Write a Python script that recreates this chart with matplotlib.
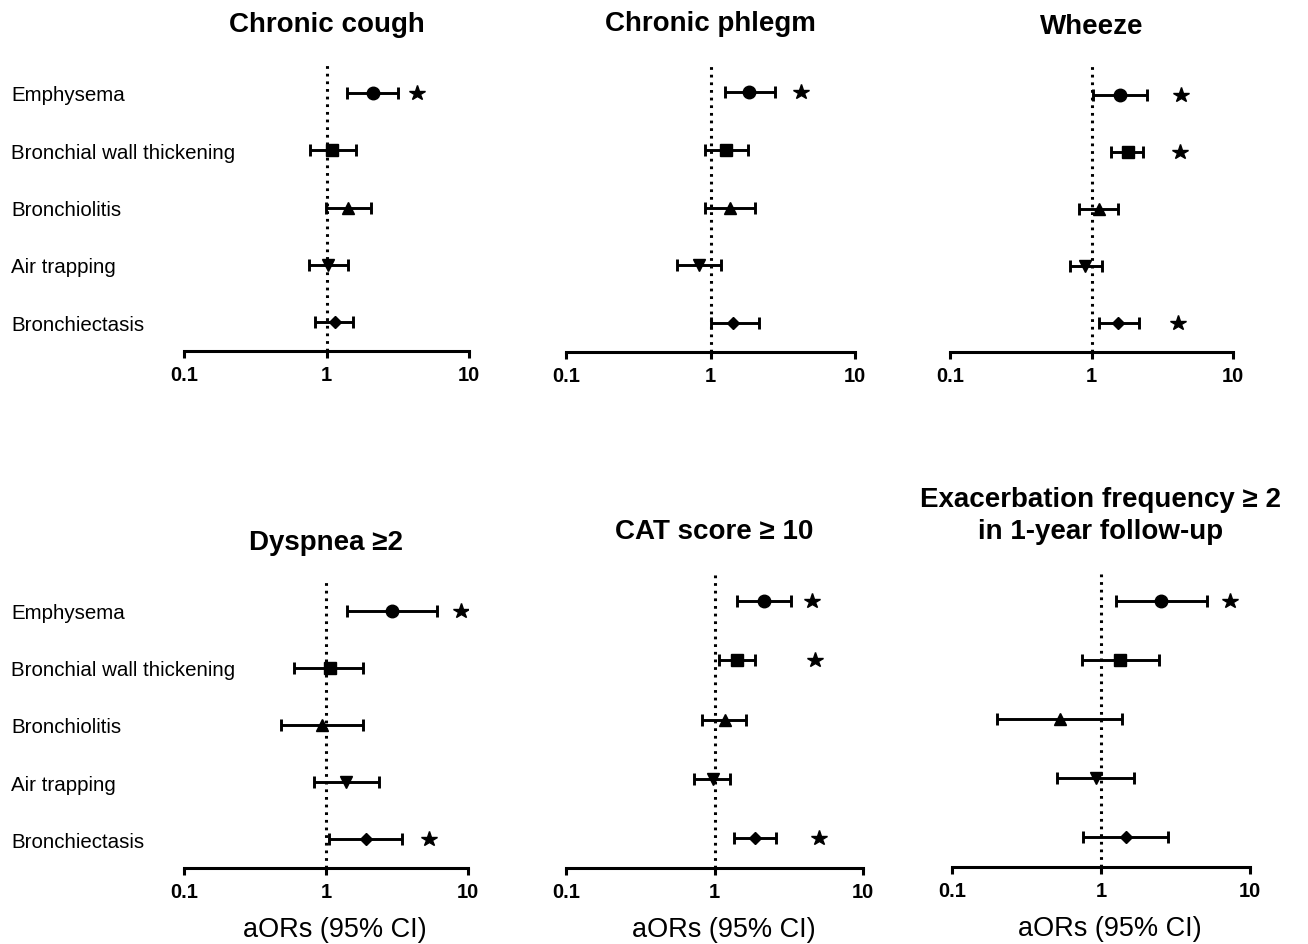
import matplotlib.pyplot as plt
import numpy as np

plt.rcParams['font.family'] = ['Liberation Sans', 'DejaVu Sans']

categories = ["Emphysema", "Bronchial wall thickening", "Bronchiolitis",
              "Air trapping", "Bronchiectasis"]
markers = ["o", "s", "^", "v", "D"]

titles = ["Chronic cough", "Chronic phlegm", "Wheeze",
          "Dyspnea \u22652", "CAT score \u2265 10",
          "Exacerbation frequency \u2265 2\nin 1-year follow-up"]

# adjusted odds ratios and 95% CI, one list per outcome
aor = [
    [2.11, 1.10, 1.42, 1.03, 1.15],
    [1.86, 1.28, 1.36, 0.83, 1.44],
    [1.60, 1.80, 1.13, 0.90, 1.55],
    [2.92, 1.06, 0.93, 1.39, 1.90],
    [2.16, 1.42, 1.17, 0.97, 1.87],
    [2.53, 1.35, 0.53, 0.92, 1.47],
]
ci_low = [
    [1.40, 0.77, 0.99, 0.75, 0.83],
    [1.26, 0.92, 0.92, 0.59, 1.00],
    [1.03, 1.38, 0.82, 0.70, 1.13],
    [1.41, 0.60, 0.48, 0.82, 1.05],
    [1.42, 1.07, 0.83, 0.73, 1.35],
    [1.26, 0.75, 0.20, 0.51, 0.76],
]
ci_high = [
    [3.19, 1.61, 2.05, 1.41, 1.54],
    [2.79, 1.83, 2.03, 1.18, 2.17],
    [2.47, 2.33, 1.55, 1.19, 2.15],
    [6.05, 1.82, 1.82, 2.36, 3.45],
    [3.29, 1.87, 1.64, 1.28, 2.61],
    [5.13, 2.45, 1.39, 1.67, 2.83],
]
# where the significance star sits (None = not significant)
star_x = [
    [4.30, None, None, None, None],
    [4.21, None, None, None, None],
    [4.31, 4.25, None, None, 4.08],
    [8.89, None, None, None, 5.29],
    [4.56, 4.73, None, None, 5.05],
    [7.34, None, None, None, None],
]

# panel boxes in pixels: left, right, top, bottom
W, H = 1308, 945
boxes = [
    (184, 469, 65, 352),
    (566, 855, 64, 353),
    (950, 1233, 67, 353),
    (184, 468, 583, 869),
    (566, 863, 572, 869),
    (952, 1250, 572, 868),
]

fig = plt.figure(figsize=(W / 100, H / 100), dpi=100)

for i in range(6):
    l, r, t, b = boxes[i]
    ax = fig.add_axes([l / W, 1 - b / H, (r - l) / W, (b - t) / H])
    y = np.arange(len(categories))
    ax.axvline(1, color="black", lw=2.2, ls=(0, (0.9, 1.6)), zorder=1)
    for j in range(len(categories)):
        lo = aor[i][j] - ci_low[i][j]
        hi = ci_high[i][j] - aor[i][j]
        ms = 6.5 if markers[j] == "D" else 9
        ax.errorbar(aor[i][j], y[j], xerr=[[lo], [hi]], fmt=markers[j],
                    color="black", ms=ms, elinewidth=2.1, capsize=4,
                    capthick=2.1, zorder=3)
        if star_x[i][j] is not None:
            ax.plot(star_x[i][j], y[j], marker="*", color="black", ms=11.5,
                    ls="none")
    ax.set_xscale("log")
    ax.set_xlim(0.1, 10)
    ax.set_ylim(len(categories) - 0.5, -0.5)
    ax.set_xticks([0.1, 1, 10])
    ax.set_xticklabels(["0.1", "1", "10"], fontweight="bold", fontsize=14.5)
    ax.xaxis.set_minor_locator(plt.NullLocator())
    ax.tick_params(axis="x", direction="out", length=5, width=2.2, pad=5)
    for s in ["top", "right", "left"]:
        ax.spines[s].set_visible(False)
    ax.spines["bottom"].set_linewidth(2.2)
    if i % 3 == 0:
        ax.set_yticks(y)
        ax.set_yticklabels(categories, fontsize=14.8, ha="left")
        ax.tick_params(axis="y", length=0, pad=(l - 11) * 0.72)
    else:
        ax.set_yticks([])
    ax.set_title(titles[i], fontsize=20, fontweight="bold", pad=24,
                 linespacing=1.3)
    if i >= 3:
        ax.set_xlabel("aORs (95% CI)", fontsize=19.5, x=0.53, labelpad=11)

plt.savefig("out.png", dpi=100)
